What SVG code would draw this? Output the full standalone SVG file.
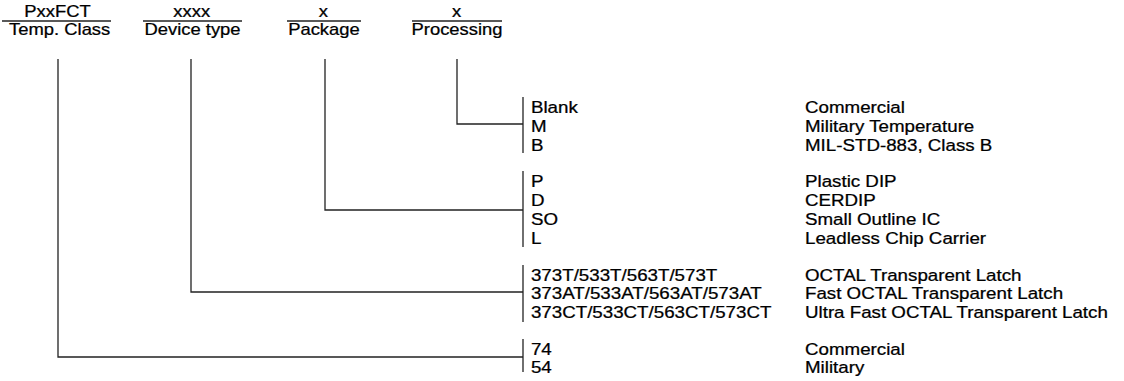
<svg xmlns="http://www.w3.org/2000/svg" width="1124" height="381" viewBox="0 0 1124 381">
<style>
text { font-family: "Liberation Sans", Arial, sans-serif; font-size: 16.3px; fill: #000; stroke: #000; stroke-width: 0.25; }
.h { text-anchor: middle; font-size: 16px; }
.ln { stroke: #222; stroke-width: 1.3; fill: none; }
</style>
<rect width="1124" height="381" fill="#fff"/>
<g id="hdr-temp">
  <line class="ln" x1="2" y1="21" x2="111" y2="21"/>
  <g transform="scale(1.15 1)"><text class="h" x="50" y="17">PxxFCT</text><text class="h" x="51.9" y="35">Temp. Class</text></g>
</g>
<g id="hdr-device">
  <line class="ln" x1="143" y1="21" x2="242" y2="21"/>
  <g transform="scale(1.15 1)"><text class="h" x="166.7" y="17">xxxx</text><text class="h" x="167.4" y="35">Device type</text></g>
</g>
<g id="hdr-package">
  <line class="ln" x1="287" y1="21" x2="361" y2="21"/>
  <g transform="scale(1.15 1)"><text class="h" x="281.1" y="17">x</text><text class="h" x="281.7" y="35">Package</text></g>
</g>
<g id="hdr-processing">
  <line class="ln" x1="412" y1="21" x2="502" y2="21"/>
  <g transform="scale(1.15 1)"><text class="h" x="397.1" y="17">x</text><text class="h" x="397.4" y="35">Processing</text></g>
</g>
<g id="connectors">
  <polyline class="ln" points="457,59 457,124 523,124"/>
  <polyline class="ln" points="325,59 325,210 523,210"/>
  <polyline class="ln" points="191,59 191,292 523,292"/>
  <polyline class="ln" points="58,59 58,357 523,357"/>
</g>
<g id="opt-processing">
  <line class="ln" x1="523" y1="97" x2="523" y2="153"/>
  <g transform="scale(1.15 1)">
    <text x="461.7" y="113">Blank</text><text x="700" y="113">Commercial</text>
    <text x="461.7" y="132">M</text><text x="700" y="132">Military Temperature</text>
    <text x="461.7" y="151">B</text><text x="700" y="151">MIL-STD-883, Class B</text>
  </g>
</g>
<g id="opt-package">
  <line class="ln" x1="523" y1="171" x2="523" y2="247"/>
  <g transform="scale(1.15 1)">
    <text x="461.7" y="187">P</text><text x="700" y="187">Plastic DIP</text>
    <text x="461.7" y="206">D</text><text x="700" y="206">CERDIP</text>
    <text x="461.7" y="225">SO</text><text x="700" y="225">Small Outline IC</text>
    <text x="461.7" y="244">L</text><text x="700" y="244">Leadless Chip Carrier</text>
  </g>
</g>
<g id="opt-device">
  <line class="ln" x1="523" y1="265" x2="523" y2="322"/>
  <g transform="scale(1.15 1)">
    <text x="461.7" y="281">373T/533T/563T/573T</text><text x="700" y="281">OCTAL Transparent Latch</text>
    <text x="461.7" y="299.5">373AT/533AT/563AT/573AT</text><text x="700" y="299.5">Fast OCTAL Transparent Latch</text>
    <text x="461.7" y="318">373CT/533CT/563CT/573CT</text><text x="700" y="318">Ultra Fast OCTAL Transparent Latch</text>
  </g>
</g>
<g id="opt-temp">
  <line class="ln" x1="523" y1="339" x2="523" y2="372"/>
  <g transform="scale(1.15 1)">
    <text x="461.7" y="355">74</text><text x="700" y="355">Commercial</text>
    <text x="461.7" y="373">54</text><text x="700" y="373">Military</text>
  </g>
</g>
</svg>
